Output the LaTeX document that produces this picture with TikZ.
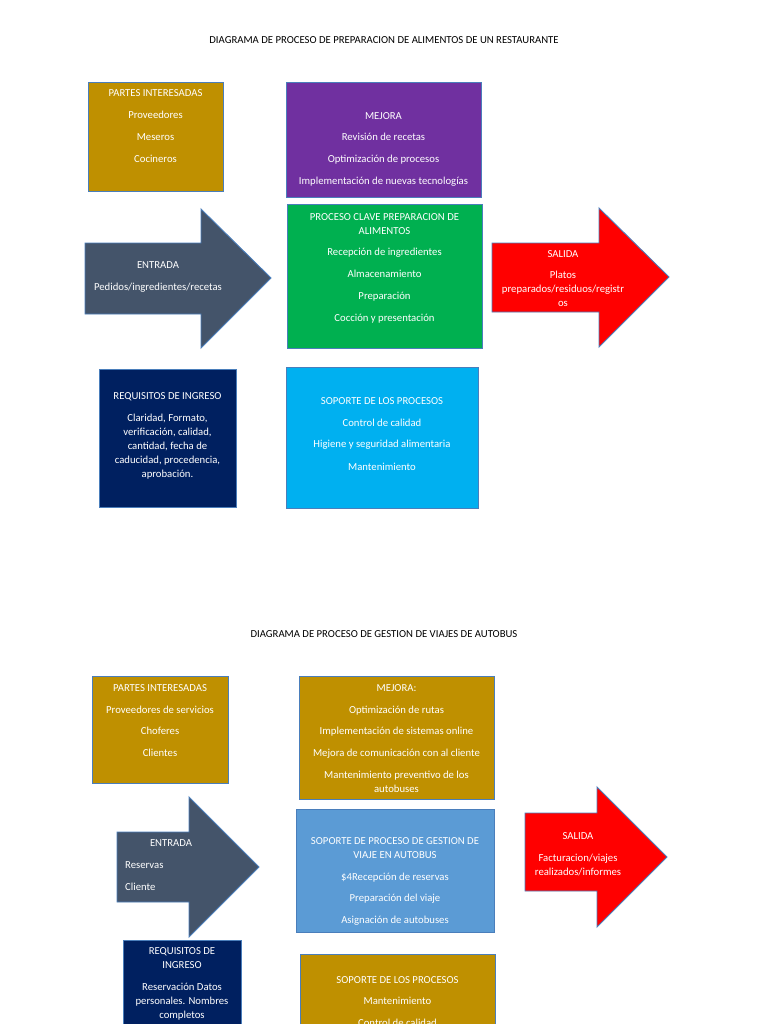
\documentclass[tikz,border=0pt]{standalone}
\usepackage{fontspec}
\setmainfont{Carlito}
\definecolor{gold}{HTML}{BF9000}
\definecolor{purp}{HTML}{7030A0}
\definecolor{grn}{HTML}{00B050}
\definecolor{slate}{HTML}{44546A}
\definecolor{redc}{HTML}{FF0000}
\definecolor{navy}{HTML}{002060}
\definecolor{sky}{HTML}{00B0F0}
\definecolor{blu}{HTML}{5B9BD5}
\definecolor{edge}{HTML}{4A7EBB}
\tikzset{
  box/.style={draw=edge, line width=0.9pt},
  arrowshape/.style={draw=edge, line width=0.9pt},
  txt/.style={text=white, font=\fontsize{10.7}{14}\selectfont, align=center, inner sep=0pt, anchor=north},
  ttl/.style={text=black, font=\fontsize{10.7}{12}\selectfont, inner sep=0pt},
}
\begin{document}
\begin{tikzpicture}[x=1pt,y=-1pt]
\useasboundingbox (0,0) rectangle (768,1024);
\fill[white] (0,0) rectangle (768,1024);

% ===== Diagram 1 =====
\node[ttl] (t1) at (384,40) {DIAGRAMA DE PROCESO DE PREPARACION DE ALIMENTOS DE UN RESTAURANTE};

\path[box, fill=gold] (88,82) rectangle (223,191);
\node[txt] (p1) at (155.5,89) {PARTES INTERESADAS\\[8pt]Proveedores\\[8pt]Meseros\\[8pt]Cocineros};

\path[box, fill=purp] (286,82) rectangle (481,197);
\node[txt] (m1) at (383.5,112) {MEJORA\\[7.5pt]Revisión de recetas\\[8pt]Optimización de procesos\\[7.5pt]Implementación de nuevas tecnologías};

\path[arrowshape, fill=slate] (85,243) -- (201,243) -- (201,209) -- (271,278) -- (201,348) -- (201,314) -- (85,314) -- cycle;
\node[txt] (e1) at (158,261) {ENTRADA\\[8pt]Pedidos/ingredientes/recetas};

\path[box, fill=grn] (287,204) rectangle (482,348);
\node[txt] (k1) at (384.5,213) {PROCESO CLAVE PREPARACION DE\\ALIMENTOS\\[7pt]Recepción de ingredientes\\[8pt]Almacenamiento\\[8pt]Preparación\\[8pt]Cocción y presentación};

\path[arrowshape, fill=redc] (492,243) -- (599,243) -- (599,208) -- (669,277) -- (599,347) -- (599,312) -- (492,312) -- cycle;
\node[txt] (s1) at (563,250) {SALIDA\\[7pt]Platos\\preparados/residuos/registr\\os};

\path[box, fill=navy] (99,369) rectangle (236,507);
\node[txt] (r1) at (167.5,392) {REQUISITOS DE INGRESO\\[8pt]Claridad, Formato,\\verificación, calidad,\\cantidad, fecha de\\caducidad, procedencia,\\aprobación.};

\path[box, fill=sky] (286,367) rectangle (478,508);
\node[txt] (q1) at (382,397) {SOPORTE DE LOS PROCESOS\\[8pt]Control de calidad\\[7pt]Higiene y seguridad alimentaria\\[9pt]Mantenimiento};

% ===== Diagram 2 =====
\node[ttl] (t2) at (384,634) {DIAGRAMA DE PROCESO DE GESTION DE VIAJES DE AUTOBUS};

\path[box, fill=gold] (92,676) rectangle (228,783);
\node[txt] (p2) at (160,684) {PARTES INTERESADAS\\[8pt]Proveedores de servicios\\[7pt]Choferes\\[8pt]Clientes};

\path[box, fill=gold] (299,676) rectangle (494,799);
\node[txt] (m2) at (396.5,684) {MEJORA:\\[8pt]Optimización de rutas\\[7pt]Implementación de sistemas online\\[8pt]Mejora de comunicación con al cliente\\[8pt]Mantenimiento preventivo de los\\autobuses};

\path[arrowshape, fill=slate] (117,832) -- (189,832) -- (189,797) -- (259,867) -- (189,937) -- (189,902) -- (117,902) -- cycle;
\node[txt] (e2) at (171,839) {ENTRADA};
\node[txt, align=left, anchor=north west] (e2b) at (125,861) {Reservas\\[8pt]Cliente};

\path[box, fill=blu] (296,809) rectangle (494,932);
\node[txt] (k2) at (395,837) {SOPORTE DE PROCESO DE GESTION DE\\VIAJE EN AUTOBUS\\[8pt]\$4Recepción de reservas\\[7pt]Preparación del viaje\\[8pt]Asignación de autobuses};

\path[arrowshape, fill=redc] (525,813) -- (597,813) -- (597,787) -- (667,857) -- (597,927) -- (597,891) -- (525,891) -- cycle;
\node[txt] (s2) at (578,832) {SALIDA\\[8pt]Facturacion/viajes\\realizados/informes};

\path[box, fill=navy] (123,940) rectangle (241,1034);
\node[txt] (r2) at (182,947) {REQUISITOS DE\\INGRESO\\[8pt]Reservación Datos\\personales. Nombres\\completos};

\path[box, fill=gold] (300,954) rectangle (495,1034);
\node[txt] (q2) at (397.5,976) {SOPORTE DE LOS PROCESOS\\[7pt]Mantenimiento\\[8pt]Control de calidad};
\end{tikzpicture}
\end{document}
